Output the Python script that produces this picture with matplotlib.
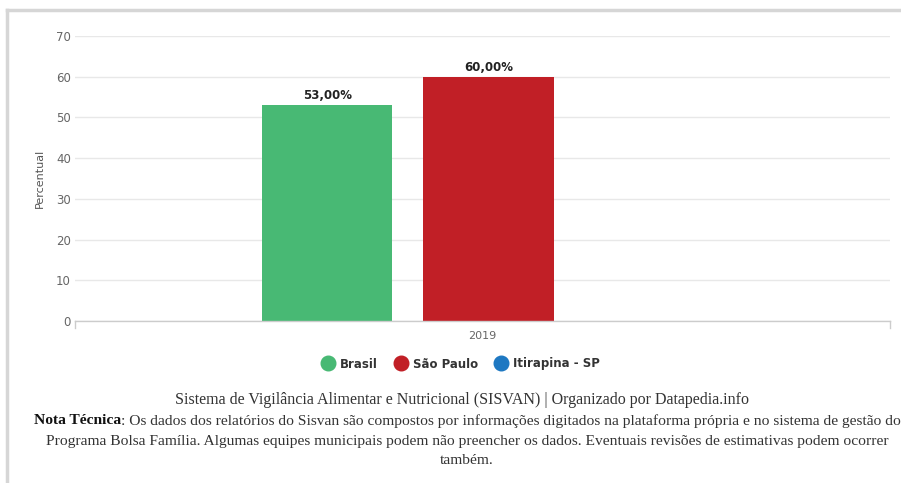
import numpy as np
import matplotlib
matplotlib.use("Agg")
import matplotlib.pyplot as plt
from matplotlib.lines import Line2D

categories = ["2019"]
series_names = ["Brasil", "São Paulo", "Itirapina - SP"]
series_values = [[53.0], [60.0], [np.nan]]
colors = ["#48B974", "#C11F26", "#1E78C2"]
yticks = [0, 10, 20, 30, 40, 50, 60, 70]

W, H = 901, 483
fig = plt.figure(figsize=(W / 100, H / 100), dpi=100)
fig.patch.set_facecolor("white")

# outer frame lines (screenshot border)
fig.add_artist(Line2D([7 / W, 1], [1 - 10 / H, 1 - 10 / H], color="#d6d6d6", lw=2.5))
fig.add_artist(Line2D([7 / W, 7 / W], [0, 1 - 10 / H], color="#d6d6d6", lw=2.5))

ax = fig.add_axes([75 / W, 1 - 321 / H, (890 - 75) / W, (321 - 36) / H])
ax.set_facecolor("white")

x = np.arange(len(categories))
n = len(series_names)
bw = 0.16
gap = 0.038
shift = 0.0075
offsets = (np.arange(n) - (n - 1) / 2) * (bw + gap) + shift
for i, (name, vals, c) in enumerate(zip(series_names, series_values, colors)):
    v = np.array(vals, dtype=float)
    bars = ax.bar(x + offsets[i], np.nan_to_num(v), width=bw, color=c, label=name)
    for b, val in zip(bars, v):
        if np.isnan(val):
            b.set_visible(False)
            continue
        ax.annotate(f"{val:.2f}%".replace(".", ","), (b.get_x() + b.get_width() / 2, val),
                    xytext=(0, 2), textcoords="offset points", ha="center", va="bottom",
                    fontsize=8.5, fontweight="bold", color="#222222", family="DejaVu Sans")

ax.set_xlim(-0.5, 0.5)
ax.set_ylim(0, 70)
ax.set_yticks(yticks)
ax.set_yticklabels([str(t) for t in yticks], fontsize=8.5, color="#666666")
ax.set_xticks(x)
ax.set_xticklabels(categories, fontsize=8, color="#666666")
ax.tick_params(axis="y", length=0, pad=3)
ax.tick_params(axis="x", length=0, pad=7)
ax.grid(axis="y", color="#e8e8e8", lw=1)
ax.set_axisbelow(True)
for s in ["top", "right", "left"]:
    ax.spines[s].set_visible(False)
ax.spines["bottom"].set_color("#cccccc")
ax.spines["bottom"].set_linewidth(1)
# category edge ticks
for xe in [-0.5, 0.5]:
    ax.plot([xe, xe], [0, -1.6], color="#cccccc", lw=1, clip_on=False)

ax.set_ylabel("Percentual", fontsize=8, color="#555555", labelpad=8)

handles = [Line2D([], [], marker="o", ls="", markersize=10.5, markerfacecolor=c,
                  markeredgecolor=c) for c in colors]
leg = fig.legend(handles, series_names, loc="center", bbox_to_anchor=(458 / W, 1 - 364 / H),
                 ncol=3, frameon=False, handletextpad=0.05, columnspacing=0.9,
                 prop={"weight": "bold", "size": 8.5, "family": "DejaVu Sans"})
for t in leg.get_texts():
    t.set_color("#333333")

serif = "Liberation Serif"
fs = 11.15
fig.text(462 / W, 1 - 400 / H,
         "Sistema de Vigilância Alimentar e Nutricional (SISVAN) | Organizado por Datapedia.info",
         ha="center", va="center", fontsize=11.5, family=serif, color="#333333")
y2 = 1 - 421 / H
t1 = fig.text(34 / W, y2, "Nota Técnica", ha="left", va="center", fontsize=fs,
              family=serif, fontweight="bold", color="#111111")
fig.canvas.draw()
bb = t1.get_window_extent()
fig.text(bb.x1 / W, y2,
         ": Os dados dos relatórios do Sisvan são compostos por informações digitados na plataforma própria e no sistema de gestão do",
         ha="left", va="center", fontsize=fs, family=serif, color="#333333")
fig.text(467 / W, 1 - 441 / H,
         "Programa Bolsa Família. Algumas equipes municipais podem não preencher os dados. Eventuais revisões de estimativas podem ocorrer",
         ha="center", va="center", fontsize=fs, family=serif, color="#333333")
fig.text(467 / W, 1 - 461 / H, "também.", ha="center", va="center", fontsize=fs,
         family=serif, color="#333333")

fig.savefig("out.png", dpi=100, facecolor="white")
